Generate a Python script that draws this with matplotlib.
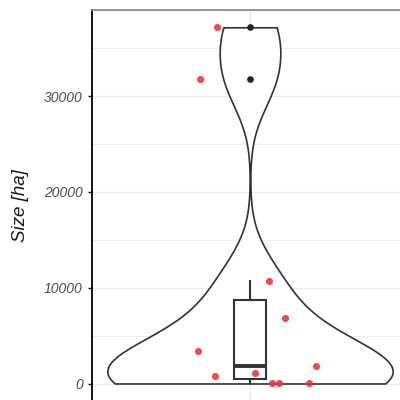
import numpy as np
import matplotlib
matplotlib.use('Agg')
import matplotlib.pyplot as plt
from matplotlib.ticker import MultipleLocator

# data
sizes = [37164, 31741, 10709, 6820, 3441, 1877, 1147, 803, 100, 50, 20]
jitter = [-0.104, -0.159, 0.059, 0.111, -0.163, 0.208, 0.017, -0.111, 0.069, 0.092, 0.187]
yticks = [0, 10000, 20000, 30000]
ylabel = 'Size [ha]'

plt.rcParams['font.family'] = ['Liberation Sans', 'DejaVu Sans']

d = np.array(sizes, float)
n = len(d)
sd = d.std(ddof=1)
q75, q25 = np.percentile(d, [75, 25])
bw = 0.9 * min(sd, (q75 - q25) / 1.34) * n ** -0.2
yy = np.linspace(d.min(), d.max(), 512)
dens = np.exp(-0.5 * ((yy[:, None] - d[None, :]) / bw) ** 2).sum(1)
w = dens / dens.max() * 0.45

fig = plt.figure(figsize=(4, 4), dpi=100)
ax = fig.add_axes([91.5 / 400, -1.3 / 400, 317 / 400, 391.8 / 400])

ax.fill_betweenx(yy, 1 - w, 1 + w, facecolor='white', edgecolor='#333333', lw=1.2, zorder=2)

ax.boxplot(d, positions=[1], widths=0.104, whis=1.5, patch_artist=True,
           boxprops=dict(facecolor='white', edgecolor='#333333', lw=1.5),
           medianprops=dict(color='#333333', lw=2.8),
           whiskerprops=dict(color='#333333', lw=1.5),
           capprops=dict(lw=0),
           flierprops=dict(marker='o', markerfacecolor='#222222', markeredgecolor='#222222', markersize=3.8),
           zorder=3, manage_ticks=False)

ax.scatter(1 + np.array(jitter), d, s=26, color='#f03434', alpha=0.9, lw=0, zorder=4)

pad = 0.05 * (d.max() - d.min())
ax.set_ylim(d.min() - pad, d.max() + pad)
ax.set_xlim(0.5, 1.5)
ax.set_yticks(yticks)
ax.set_yticklabels([str(t) for t in yticks], fontstyle='italic', color='#4d4d4d', fontsize=10)
ax.yaxis.set_minor_locator(MultipleLocator(5000))
ax.set_xticks([1])
ax.set_xticklabels([''])
ax.tick_params(axis='x', length=0)
ax.tick_params(axis='y', which='major', length=3.2, width=1, color='black', pad=3)
ax.tick_params(axis='y', which='minor', length=0)
ax.grid(True, which='major', color='#ebebeb', lw=0.9, zorder=0)
ax.grid(True, which='minor', axis='y', color='#ebebeb', lw=0.6, zorder=0)
ax.set_axisbelow(True)

ax.spines['left'].set_color('black')
ax.spines['left'].set_linewidth(1.3)
ax.spines['top'].set_color('#8c8c8c')
ax.spines['top'].set_linewidth(1.3)
ax.spines['right'].set_visible(False)
ax.spines['bottom'].set_visible(False)

ax.set_ylabel(ylabel, fontstyle='italic', fontsize=13.5, color='#1a1a1a')
ax.yaxis.set_label_coords((29 - 91.5) / 317, 0.5)

fig.savefig('out.png', dpi=100)
